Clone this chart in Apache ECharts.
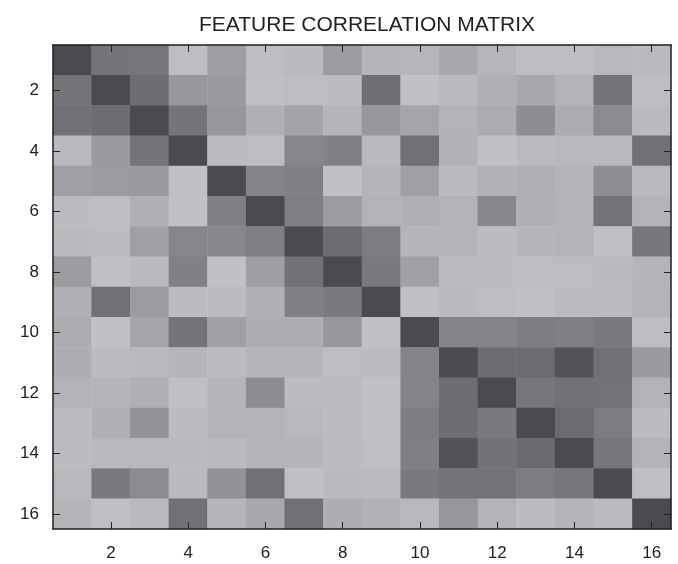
<!DOCTYPE html>
<html>
<head>
<meta charset="utf-8">
<script src="https://cdn.jsdelivr.net/npm/echarts@6/dist/echarts.min.js"></script>
<style>
html,body{margin:0;padding:0;background:#fff;}
#chart{width:678px;height:564px;}
</style>
</head>
<body>
<div id="chart"></div>
<script>
const features = ['1','2','3','4','5','6','7','8','9','10','11','12','13','14','15','16'];
const chartTitle = 'FEATURE CORRELATION MATRIX';

// correlation strength per row (row 1 at top), columns 1..16
const row1  = [1.00,0.64,0.63,0.03,0.30,0.03,0.06,0.31,0.10,0.09,0.20,0.09,0.03,0.03,0.07,0.06];
const row2  = [0.65,1.00,0.70,0.35,0.33,0.02,0.03,0.04,0.69,0.00,0.06,0.14,0.20,0.12,0.64,0.03];
const row3  = [0.68,0.71,1.00,0.64,0.36,0.14,0.25,0.10,0.36,0.24,0.12,0.18,0.44,0.18,0.46,0.06];
const row4  = [0.06,0.32,0.64,1.00,0.04,0.03,0.50,0.54,0.06,0.68,0.13,0.00,0.05,0.08,0.08,0.68];
const row5  = [0.28,0.31,0.33,0.01,1.00,0.52,0.54,0.00,0.10,0.28,0.06,0.13,0.15,0.11,0.42,0.07];
const row6  = [0.04,0.03,0.14,0.00,0.54,1.00,0.56,0.31,0.12,0.14,0.12,0.48,0.14,0.12,0.66,0.12];
const row7  = [0.06,0.04,0.28,0.50,0.49,0.56,1.00,0.72,0.58,0.10,0.12,0.04,0.10,0.12,0.01,0.63];
const row8  = [0.31,0.01,0.06,0.54,0.00,0.29,0.68,1.00,0.60,0.28,0.04,0.04,0.03,0.03,0.06,0.10];
const row9  = [0.14,0.68,0.31,0.04,0.04,0.14,0.54,0.60,1.00,0.00,0.06,0.03,0.00,0.05,0.04,0.12];
const row10 = [0.18,0.00,0.24,0.65,0.27,0.16,0.16,0.36,0.00,1.00,0.52,0.52,0.58,0.55,0.60,0.03];
const row11 = [0.16,0.04,0.06,0.10,0.04,0.10,0.10,0.03,0.04,0.52,1.00,0.71,0.72,0.92,0.68,0.32];
const row12 = [0.12,0.10,0.14,0.00,0.10,0.44,0.04,0.04,0.00,0.52,0.70,1.00,0.63,0.68,0.66,0.12];
const row13 = [0.04,0.14,0.38,0.04,0.12,0.12,0.08,0.05,0.00,0.57,0.70,0.60,1.00,0.72,0.58,0.04];
const row14 = [0.04,0.08,0.08,0.06,0.06,0.10,0.10,0.04,0.02,0.55,0.93,0.67,0.73,1.00,0.63,0.12];
const row15 = [0.08,0.60,0.46,0.06,0.41,0.68,0.00,0.06,0.04,0.60,0.65,0.66,0.58,0.63,1.00,0.02];
const row16 = [0.10,0.02,0.06,0.68,0.10,0.20,0.68,0.16,0.13,0.08,0.36,0.12,0.04,0.10,0.05,1.00];

const rows = [row1,row2,row3,row4,row5,row6,row7,row8,row9,row10,row11,row12,row13,row14,row15,row16];
const cells = [];
rows.forEach((r, yi) => r.forEach((v, xi) => cells.push([xi, yi, v])));

const even = (i) => i % 2 === 1;
const font = 'Liberation Sans, Arial, sans-serif';
const lineStyle = { color: '#222', width: 1.5 };

function axis(pos, showLabel, extra) {
  return Object.assign({
    type: 'category',
    data: features,
    position: pos,
    boundaryGap: true,
    z: 10,
    axisLine: { show: true, lineStyle: lineStyle },
    axisTick: { show: true, inside: true, length: 7, alignWithLabel: true, interval: even, lineStyle: { color: '#222', width: 1 } },
    axisLabel: { show: showLabel, interval: even, fontSize: 17, color: '#222', fontFamily: font },
    splitLine: { show: false },
    splitArea: { show: false }
  }, extra || {});
}

const chart = echarts.init(document.getElementById('chart'), null, { renderer: 'canvas' });
chart.setOption({
  animation: false,
  backgroundColor: '#ffffff',
  title: {
    text: chartTitle,
    left: 362, textAlign: 'center',
    top: 10,
    textStyle: { fontSize: 21, fontWeight: 'normal', color: '#222', fontFamily: font }
  },
  grid: { left: 53, right: 7, top: 45, bottom: 35, containLabel: false, outerBoundsMode: 'none' },
  xAxis: [
    axis('bottom', true, { axisLabel: { show: true, interval: even, fontSize: 17, color: '#222', fontFamily: font, margin: 16 } }),
    axis('top', false)
  ],
  yAxis: [
    axis('left', true, { inverse: true, axisLabel: { show: true, interval: even, fontSize: 17, color: '#222', fontFamily: font, margin: 14 } }),
    axis('right', false, { inverse: true })
  ],
  visualMap: {
    show: false, min: 0, max: 1, dimension: 2,
    inRange: { color: ['#c0c1c4', '#4a4b4e'] }
  },
  series: [{
    type: 'heatmap',
    xAxisIndex: 0, yAxisIndex: 0,
    z: 2,
    data: cells,
    itemStyle: { borderWidth: 0 },
    emphasis: { disabled: true }
  }]
});
</script>
</body>
</html>
